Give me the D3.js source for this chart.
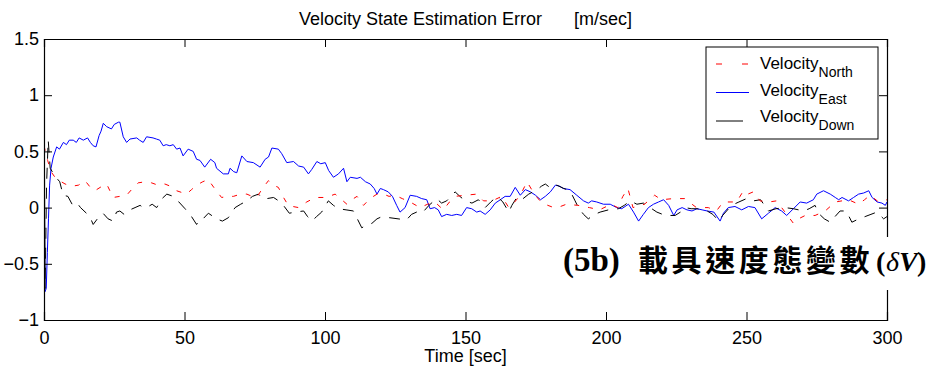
<!DOCTYPE html>
<html>
<head>
<meta charset="utf-8">
<script src="https://d3js.org/d3.v7.min.js"></script>
<style>
  html, body { margin: 0; padding: 0; background: #fff; }
  svg { display: block; }
  text { font-family: "Liberation Sans", Arial, sans-serif; }
</style>
</head>
<body>
<div id="chart"></div>
<script>
// ---- data (time [sec], error [m/sec]) ----
const xTicks = [0, 50, 100, 150, 200, 250, 300];
const yTicks = [-1, -0.5, 0, 0.5, 1, 1.5];

const velNorth = [
  [0,0.55],[0.5,0.5],[1.3,0.42],[2.5,0.32],[3.9,0.27],[5.5,0.24],[7.5,0.21],[10,0.19],[12.3,0.2],[14.6,0.24],
  [16.5,0.18],[18.1,0.15],[20,0.18],[22.3,0.21],[24.6,0.09],[27,0.1],[29.4,0.11],[31.5,0.17],[33.5,0.22],[36,0.23],
  [38.3,0.22],[40.5,0.2],[43,0.21],[45,0.19],[47.2,0.15],[50.7,0.12],[52.5,0.16],[54.3,0.2],[56.5,0.23],[58.4,0.25],
  [61,0.16],[63.2,0.09],[65.5,0.1],[67.4,0.1],[70,0.12],[72.2,0.12],[74,0.1],[75.7,0.09],[78,0.18],[79.9,0.24],
  [81.5,0.2],[83.4,0.18],[85,0.1],[86.9,0.02],[88.5,0.01],[90.6,0],[93.5,0.05],[96.5,0.09],[99.5,0.09],[101.5,0.1],
  [103.6,0.12],[105.5,0.08],[107.8,0.03],[109.5,0.07],[111.4,0.1],[113.7,0.02],[116,0.08],[118.5,0.12],[120.8,0.12],[122.8,0.1],
  [124.9,0.11],[127.5,0.08],[130.3,0.05],[133.8,0],[136.5,0.03],[139.1,0.05],[142.1,-0.02],[144.3,0.05],[146.3,0.1],[150,0.11],
  [154,0.12],[156.4,0.06],[159.5,0.06],[162.9,0.1],[165.4,0],[167.5,0.05],[169.5,0.11],[171.9,0.23],[174.5,0.12],[177.2,0.04],
  [179.3,0.02],[181.4,0],[183.8,0.01],[185.9,0.03],[190,0.02],[194.1,0],[197.7,-0.02],[201.8,0.03],[204.2,0],[206,0.1],
  [207.8,0.17],[209.6,0],[213.7,0.03],[215.5,0.07],[217.3,0.11],[219.7,0.07],[223.9,0.08],[228,0.08],[232.2,0],[236.4,0],
  [239.3,-0.03],[241.7,0.05],[246.5,0.05],[248.9,0.15],[250.5,0.12],[252.4,0.14],[254.8,0.06],[258,0.05],[260.7,0.06],[263.7,-0.04],
  [266.7,-0.14],[268.5,-0.1],[270.9,-0.07],[274.4,-0.07],[278,-0.03],[281.6,0.05],[284,0.06],[286.3,0.07],[289.9,0.03],[292,0.07],
  [294,0.11],[297,0.05],[300,0.07]
];

const velEast = [
  [0,1.0],[0.3,-0.75],[0.8,-0.72],[1.2,-0.4],[1.6,-0.1],[2,0.2],[2.5,0.35],[3.3,0.45],[4.5,0.54],[5.5,0.52],
  [6.9,0.58],[8,0.56],[9,0.6],[10.4,0.6],[11.5,0.58],[12.5,0.62],[14,0.6],[15.5,0.62],[16.5,0.58],[17.5,0.55],
  [18.5,0.54],[19.6,0.64],[20.3,0.68],[21.1,0.75],[22.3,0.72],[24,0.7],[25,0.74],[26.5,0.76],[27,0.76],[28.2,0.63],
  [29.4,0.58],[30.6,0.61],[33,0.62],[34,0.6],[35.3,0.58],[36.5,0.63],[38.8,0.62],[40,0.61],[41.2,0.6],[42.4,0.55],
  [43.5,0.56],[44.8,0.55],[46,0.56],[47.2,0.52],[48.4,0.53],[49.5,0.46],[51.3,0.52],[53.1,0.5],[54.3,0.43],[55.5,0.42],
  [57.2,0.36],[59.3,0.43],[60.8,0.4],[61.4,0.35],[63.8,0.3],[65.6,0.3],[66.2,0.35],[67.5,0.32],[68.6,0.31],[70.4,0.46],
  [72.2,0.41],[74.5,0.4],[76.9,0.36],[78.7,0.43],[79.9,0.45],[81.1,0.53],[83.4,0.52],[84.6,0.48],[86.4,0.4],[88.8,0.41],
  [90.6,0.37],[92.4,0.36],[94.1,0.3],[95.3,0.34],[97.1,0.41],[98.5,0.39],[100.1,0.4],[101.3,0.33],[103,0.27],[104.8,0.3],
  [106.6,0.35],[107.8,0.23],[109,0.27],[111.4,0.26],[112.6,0.27],[114.4,0.23],[116.1,0.21],[117.5,0.17],[118.5,0.12],[119.7,0.17],
  [120.8,0.16],[122.5,0.14],[124,0.1],[125.5,0.02],[126.7,-0.04],[128.5,0],[130.3,0.11],[132.6,0.1],[134.4,0.08],[136.2,0.07],
  [137.4,-0.01],[139,0],[140.3,-0.02],[141.5,-0.08],[143.3,-0.06],[145.1,-0.07],[146.9,-0.06],[148.6,-0.07],[150.4,0],[152.2,-0.01],
  [154,-0.04],[155.2,-0.03],[157,-0.06],[158.8,-0.02],[160.6,0.04],[162.4,0.07],[164.1,0.1],[165.9,0.1],[167.7,0.18],[169.5,0.11],
  [171.3,0.16],[173.1,0.14],[174.9,0.11],[176.7,0.07],[178.4,0.1],[180.2,0.14],[182,0.2],[183.5,0.19],[184.8,0.17],[187.2,0.16],
  [189.6,0.11],[192,0.06],[193.7,0.04],[194.9,0.06],[196.7,0.05],[199.1,0.03],[201.5,0.03],[203.8,0],[205.6,-0.01],[208,0.03],
  [209.8,-0.04],[211.6,-0.12],[213.3,-0.06],[215.1,0],[216.9,0.03],[218.7,0.05],[220.5,0.07],[222.3,0.02],[224.1,-0.07],[225.3,-0.02],
  [227.1,0],[228.8,-0.02],[230.6,-0.03],[232.4,-0.01],[234.2,-0.02],[236,-0.03],[238.4,-0.04],[240.6,-0.12],[241.8,-0.05],[243.5,0],
  [245.9,0.01],[248.3,-0.02],[250.7,0.01],[253,0],[255.4,-0.1],[257.8,-0.05],[260.2,0],[262.5,-0.03],[264.3,-0.07],[266.7,-0.01],
  [269.1,0.05],[271.4,0.04],[273.8,0.07],[275,0.12],[277.4,0.15],[279.8,0.12],[281.6,0.09],[282.8,0.07],[284,0.09],[286.3,0.06],
  [288.1,0.09],[289.9,0.12],[291.7,0.13],[293.5,0.15],[294.7,0.09],[296.5,0.05],[298.2,0.04],[299.4,0.02],[300,0.05]
];

const velDown = [
  [0,1.15],[0.4,-0.72],[0.9,0.2],[1.5,0.6],[2.2,0.35],[3.9,0.28],[5.6,0.23],[6.8,0.11],[8.5,0.1],[10,0.03],
  [11.5,0.05],[13,0],[15.1,-0.05],[16.3,-0.08],[17.5,-0.15],[19,-0.1],[21,-0.05],[22.8,-0.1],[24.6,-0.12],[25.8,-0.04],
  [27,-0.03],[28.5,-0.06],[30.6,-0.02],[32.4,0],[34.2,0.02],[35.3,0],[36.5,0],[38.5,0.03],[40.1,0],[42,0.08],
  [43.7,0.12],[46,0.1],[48,0.05],[50.2,-0.01],[52.5,-0.08],[54.3,-0.15],[55.5,-0.1],[56.6,-0.1],[58.5,-0.05],[61.4,-0.1],
  [63.5,-0.12],[65.6,-0.09],[68,0],[70,0.03],[72.2,0.06],[74.2,0.1],[76.3,0.12],[77.8,0.08],[79.3,0.08],[81.7,0.09],
  [83.5,0.06],[85.2,0.02],[87.3,-0.05],[89.4,-0.04],[92.4,-0.03],[93.8,-0.08],[95.3,-0.12],[97,-0.08],[98.8,-0.04],[101.2,0.06],
  [103,0.02],[104.8,-0.01],[107.5,-0.02],[110.1,-0.03],[111.5,-0.1],[113.1,-0.18],[115,-0.15],[116.7,-0.14],[118.5,-0.1],[120.3,-0.08],
  [123,-0.09],[126,-0.1],[129,-0.11],[130.8,-0.06],[132.6,-0.04],[134.5,-0.05],[137,0.02],[139.7,0.08],[141.5,0.04],[143.3,0.06],
  [146.3,0.14],[148,0.1],[149.9,0.06],[152.3,0.04],[154.6,0.07],[157,0],[159,0.05],[161.2,0.1],[163.3,0.05],[165.4,-0.04],
  [166.5,0.02],[168.5,0.1],[170.5,0.08],[172.5,0.12],[175.5,0.16],[177,0.19],[178.4,0.21],[180.5,0.17],[182.5,0.2],[185,0.17],
  [187.2,0.15],[189,0.06],[190.2,0],[192,-0.06],[193.7,-0.1],[196,-0.06],[197.9,-0.04],[200.9,-0.02],[204.4,-0.01],[206.5,0.02],
  [208.6,0.06],[211,0.03],[213.3,0.04],[215.7,0],[218.1,-0.04],[221.1,-0.07],[224.6,-0.07],[226.5,-0.04],[228.2,0],[230.3,-0.01],
  [232.4,-0.01],[236,-0.03],[238,-0.06],[240.2,-0.12],[241.5,-0.07],[244.7,0.02],[247.3,0.05],[250,0.08],[252.5,0.06],[255,0.07],
  [257.8,-0.03],[260.5,-0.01],[263.7,0],[266.7,-0.01],[270.3,-0.03],[272.3,-0.01],[274.4,0.02],[275.6,-0.05],[277.7,-0.1],[279.8,-0.13],
  [281.5,-0.08],[283.3,-0.03],[285.5,-0.03],[287.5,-0.13],[290,-0.1],[292.2,-0.08],[294.3,-0.06],[296.4,-0.04],[298.8,-0.1],[300,-0.08]
];

const seriesNames = ["North", "East", "Down"];
const seriesColors = ["#ff0000", "#0000ff", "#000000"];

// ---- layout ----
const W = 926, H = 374;
const plot = { left: 44, right: 887, top: 39, bottom: 320 };

const svg = d3.select("#chart").append("svg")
  .attr("width", W).attr("height", H);

const x = d3.scaleLinear().domain([0, 300]).range([plot.left, plot.right]);
const y = d3.scaleLinear().domain([-1, 1.5]).range([plot.bottom, plot.top]);

svg.append("defs").append("clipPath").attr("id", "clip")
  .append("rect")
  .attr("x", plot.left).attr("y", plot.top)
  .attr("width", plot.right - plot.left).attr("height", plot.bottom - plot.top);

const line = d3.line().x(d => x(d[0])).y(d => y(d[1]));
const lines = svg.append("g").attr("clip-path", "url(#clip)");

lines.append("path").datum(velEast)
  .attr("d", line).attr("fill", "none")
  .attr("stroke", seriesColors[1]).attr("stroke-width", 1);
lines.append("path").datum(velDown)
  .attr("d", line).attr("fill", "none")
  .attr("stroke", seriesColors[2]).attr("stroke-width", 1)
  .attr("stroke-dasharray", "11,9");
lines.append("path").datum(velNorth)
  .attr("d", line).attr("fill", "none")
  .attr("stroke", seriesColors[0]).attr("stroke-width", 1)
  .attr("stroke-dasharray", "5,9");

// ---- axes (MATLAB style box, ticks pointing in) ----
const tickLen = 8;
const axisFont = "18px";

const axBottom = svg.append("g").attr("transform", `translate(0,${plot.bottom})`)
  .call(d3.axisBottom(x).tickValues(xTicks).tickSize(-tickLen).tickPadding(11));
const axLeft = svg.append("g").attr("transform", `translate(${plot.left},0)`)
  .call(d3.axisLeft(y).tickValues(yTicks).tickSize(-tickLen).tickPadding(5)
    .tickFormat(d3.format("")));
const axTop = svg.append("g").attr("transform", `translate(0,${plot.top})`)
  .call(d3.axisTop(x).tickValues(xTicks).tickSize(-tickLen).tickFormat(""));
const axRight = svg.append("g").attr("transform", `translate(${plot.right},0)`)
  .call(d3.axisRight(y).tickValues(yTicks).tickSize(-tickLen).tickFormat(""));

[axBottom, axLeft, axTop, axRight].forEach(g => {
  g.select(".domain").attr("stroke", "#000").attr("stroke-width", 1.2);
  g.selectAll(".tick line").attr("stroke", "#000").attr("stroke-width", 1);
  g.selectAll(".tick text").attr("fill", "#000")
    .style("font-size", axisFont).style("font-family", "'Liberation Sans', Arial, sans-serif");
});

// ---- title & axis label ----
const title = svg.append("text")
  .attr("x", (plot.left + plot.right) / 2).attr("y", 25)
  .attr("text-anchor", "middle").style("font-size", "18px");
title.append("tspan").text("Velocity State Estimation Error");
title.append("tspan").attr("dx", 32).text("[m/sec]");

svg.append("text")
  .attr("x", (plot.left + plot.right) / 2).attr("y", 362)
  .attr("text-anchor", "middle").style("font-size", "18px")
  .text("Time [sec]");

// ---- legend ----
const legend = svg.append("g");
legend.append("rect")
  .attr("x", 706).attr("y", 47).attr("width", 172).attr("height", 92)
  .attr("fill", "#fff").attr("stroke", "#000").attr("stroke-width", 1);

const legendDash = ["6,20", null, null];
const legendLen = [32, 33, 27];
const legendLineY = [64, 92.5, 121];
const legendTextY = [68.5, 95.5, 122];
seriesNames.forEach((name, i) => {
  legend.append("line")
    .attr("x1", 716).attr("x2", 716 + legendLen[i])
    .attr("y1", legendLineY[i]).attr("y2", legendLineY[i])
    .attr("stroke", seriesColors[i]).attr("stroke-width", 1)
    .attr("stroke-dasharray", legendDash[i]);
  const t = legend.append("text").attr("x", 760).attr("y", legendTextY[i])
    .style("font-size", "17px");
  t.append("tspan").text("Velocity");
  t.append("tspan").attr("dy", 8).style("font-size", "14px").text(name);
});

// ---- caption (white box covers the frame) ----
svg.append("rect")
  .attr("x", 556).attr("y", 237).attr("width", W - 556).attr("height", 53)
  .attr("fill", "#fff");

const serif = "'Liberation Serif', 'Times New Roman', serif";
const caption = svg.append("g").style("font-weight", "bold");
caption.append("text").attr("x", 563).attr("y", 271)
  .style("font-family", serif).style("font-size", "33px")
  .text("(5b)");
caption.append("text").attr("x", 638).attr("y", 271)
  .style("font-family", "'Noto Sans CJK TC', 'Noto Sans CJK SC', sans-serif")
  .style("font-size", "30px").style("letter-spacing", "3.6px")
  .text("載具速度態變數");
const sym = caption.append("text").attr("y", 271)
  .style("font-family", serif).style("font-size", "28px");
sym.append("tspan").attr("x", 876).text("(");
sym.append("tspan").attr("x", 886)
  .style("font-style", "italic").style("font-weight", "normal").text("δ");
sym.append("tspan").attr("x", 899).style("font-style", "italic").text("V");
sym.append("tspan").attr("x", 917).text(")");
</script>
</body>
</html>
